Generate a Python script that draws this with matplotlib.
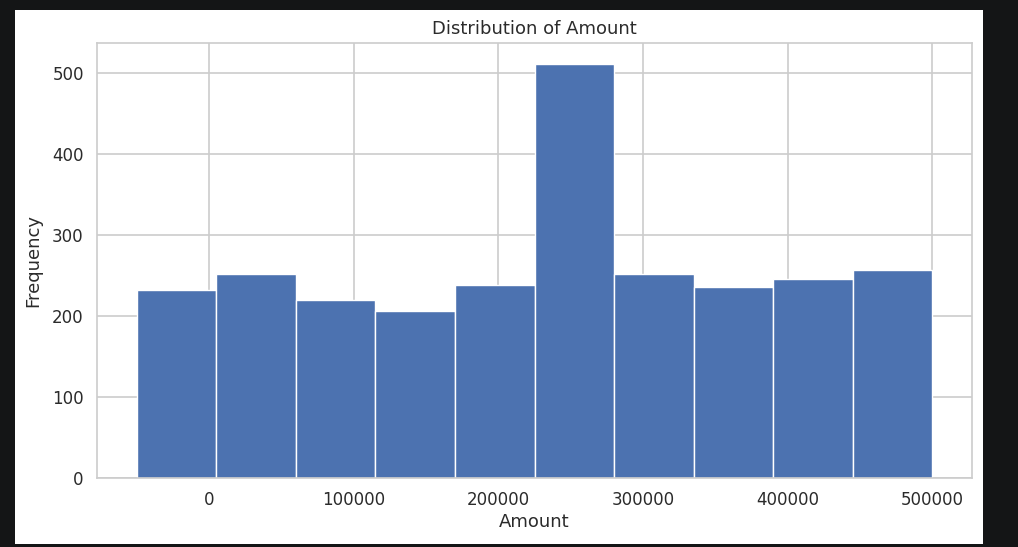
import numpy as np
import matplotlib
matplotlib.use("Agg")
import matplotlib.pyplot as plt
import seaborn as sns
from matplotlib.patches import Rectangle

# Data
bin_edges = [-50000, 5000, 60000, 115000, 170000, 225000, 280000, 335000, 390000, 445000, 500000]
counts = [232, 252, 219, 206, 238, 511, 251, 236, 245, 257]
xticks = [0, 100000, 200000, 300000, 400000, 500000]
yticks = [0, 100, 200, 300, 400, 500]

sns.set_theme(style="whitegrid")
plt.rcParams['font.family'] = ['DejaVu Sans']

W, H = 1018, 547
fig = plt.figure(figsize=(W / 100, H / 100), dpi=100, facecolor="#141516")
# white page of the screenshot
bg = Rectangle((15 / W, 3 / H), 968 / W, 534 / H,
               transform=fig.transFigure, facecolor="white",
               edgecolor="none", zorder=-10)
fig.patches.append(bg)

ax = fig.add_axes([97 / W, 1 - 477.7 / H, (972 - 97) / W, (477.7 - 43.3) / H])
ax.set_zorder(5)
ax.set_facecolor("white")

edges = np.array(bin_edges, dtype=float)
ax.bar(edges[:-1], counts, width=np.diff(edges), align="edge",
       color="#4C72B0", edgecolor="white", linewidth=1.0)

ax.set_xticks(xticks)
ax.set_yticks(yticks)
ax.tick_params(axis="both", labelsize=12, colors="#2b2b2b")
for s in ax.spines.values():
    s.set_color("#cccccc")
    s.set_linewidth(1.2)
ax.grid(True, color="#cccccc", linewidth=1.2)
ax.set_axisbelow(True)

ax.set_title("Distribution of Amount", fontsize=13, color="#2b2b2b", pad=7)
ax.set_xlabel("Amount", fontsize=13, color="#2b2b2b", labelpad=3)
ax.set_ylabel("Frequency", fontsize=13, color="#2b2b2b", labelpad=7)

fig.savefig("out.png", dpi=100, facecolor=fig.get_facecolor())
